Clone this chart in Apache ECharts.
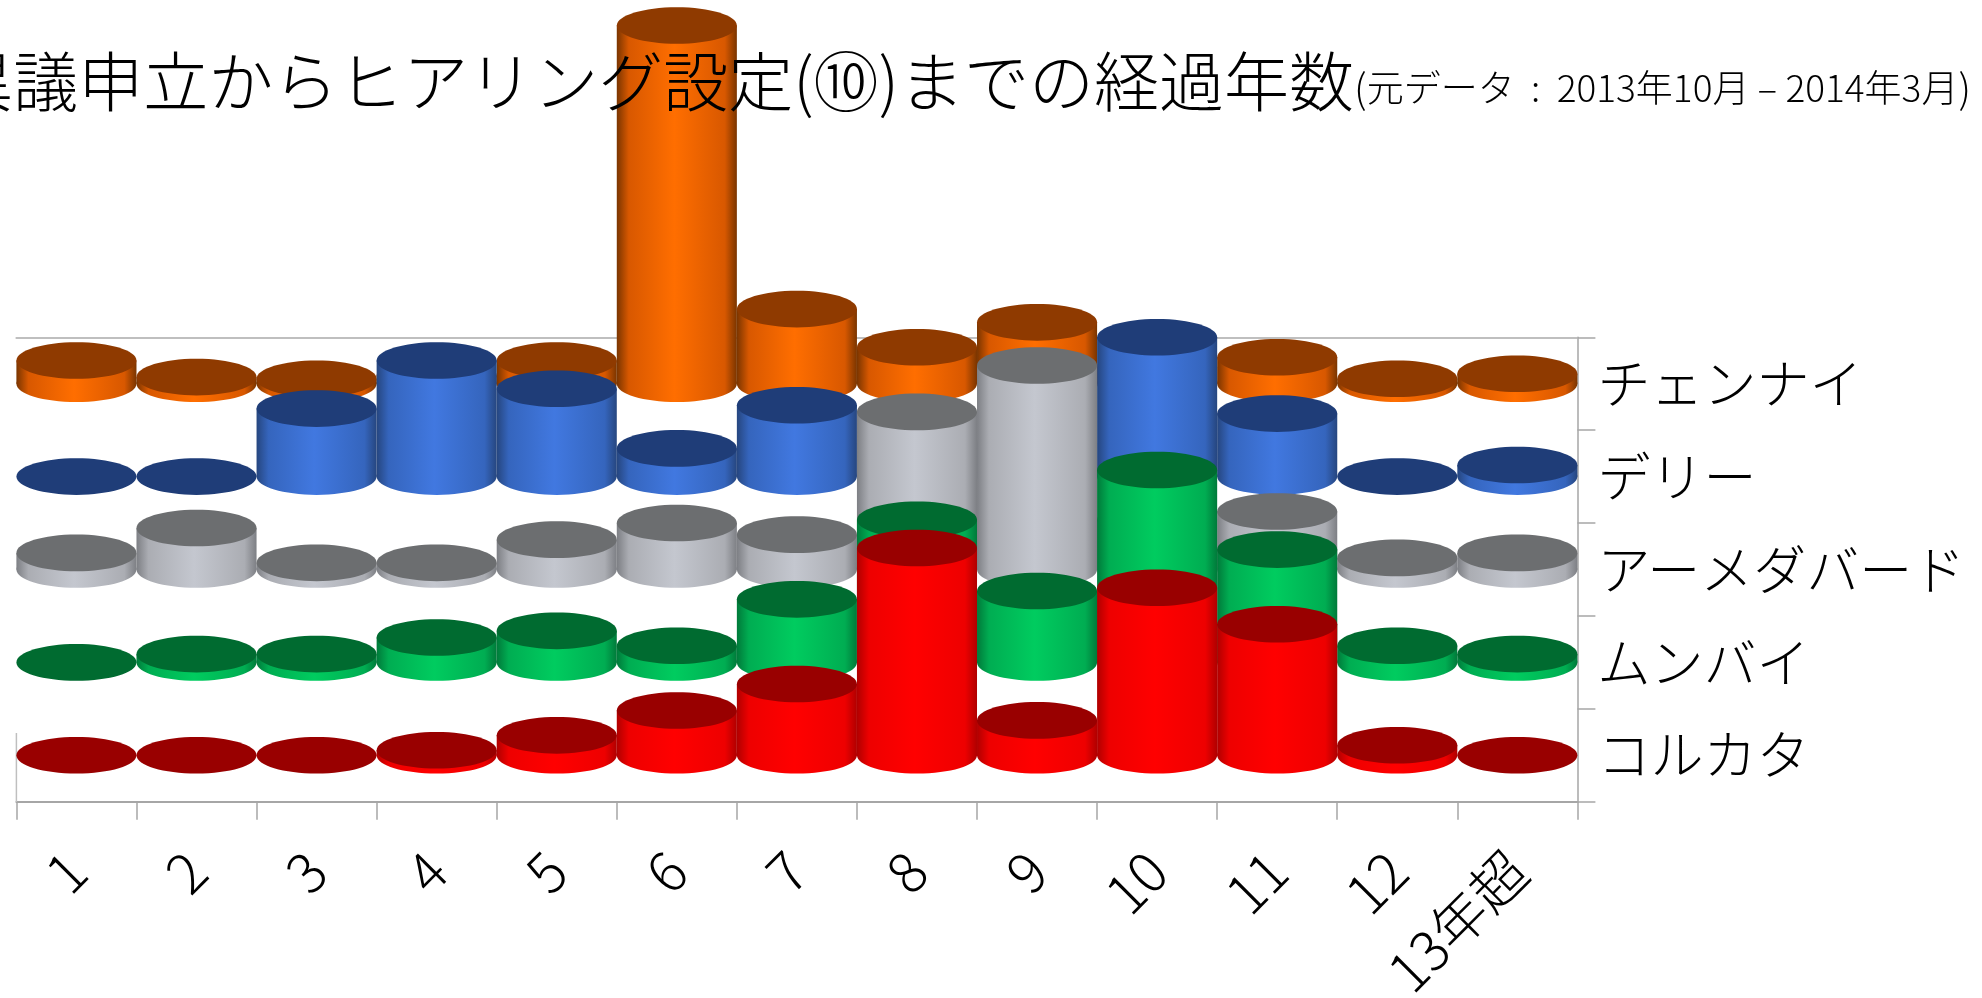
<!DOCTYPE html>
<html lang="ja">
<head>
<meta charset="utf-8">
<style>html,body{margin:0;padding:0;background:#fff;overflow:hidden}#chart{width:1982px;height:998px}</style>
<script src="https://cdn.jsdelivr.net/npm/echarts@6/dist/echarts.min.js"></script>
</head>
<body>
<div id="chart"></div>
<script>
// Years elapsed from objection filing to hearing being set, by city (cases per year bucket).
const years = ['1','2','3','4','5','6','7','8','9','10','11','12','13年超'];
const cities = ['コルカタ','ムンバイ','アーメダバード','デリー','チェンナイ'];

const kolkata   = [0,0,0,3,12,27,43,125,21,101,79,6,0];
const mumbai    = [0,5,5,15,19,10,38,86,43,116,68,10,5];
const ahmedabad = [10,25,4,4,18,28,21,95,123,30,35,7,10];
const delhi     = [0,0,41,70,53,17,43,20,20,84,38,0,7];
const chennai   = [14,4,3,5,14,216,45,22,37,10,16,3,6];

const rows = [kolkata, mumbai, ahmedabad, delhi, chennai];

// Palette per city: top face, side edge, shoulder and highlight of the curved side.
const palette = [
  {top:'#990000', edge:'#b00000', near:'#ee0000', mid:'#ff0000'},
  {top:'#006b30', edge:'#007a3a', near:'#00ad52', mid:'#00cc5f'},
  {top:'#6c6e70', edge:'#7d7f84', near:'#abadb3', mid:'#c4c7cf'},
  {top:'#1f3d78', edge:'#26467f', near:'#3565bd', mid:'#4178e0'},
  {top:'#8f3a00', edge:'#7a3500', near:'#d85800', mid:'#ff6e00'}
];

// Each city row sits on its own floor line along a shared hidden value axis.
const ROW_STEP = 56;
const AXIS_MAX = ROW_STEP * cities.length;

function cylinder(rowIdx) {
  const c = palette[rowIdx];
  const floor = ROW_STEP * (rowIdx + 0.5);
  const side = new echarts.graphic.LinearGradient(0, 0, 1, 0, [
    {offset: 0, color: c.edge},
    {offset: 0.1, color: c.near},
    {offset: 0.48, color: c.mid},
    {offset: 0.9, color: c.near},
    {offset: 1, color: c.edge}
  ]);
  return function (params, api) {
    const idx = api.value(0);
    const v = api.value(1);
    const base = api.coord([idx, floor]);
    const top = api.coord([idx, floor + v]);
    const rx = api.size([1, 0])[0] / 2;
    const ry = rx * 0.305;
    const children = [];
    if (v > 0) {
      children.push(
        {type: 'ellipse', shape: {cx: base[0], cy: base[1], rx: rx, ry: ry}, style: {fill: side}},
        {type: 'rect', shape: {x: base[0] - rx, y: top[1], width: rx * 2, height: base[1] - top[1]}, style: {fill: side}}
      );
    }
    children.push({type: 'ellipse', shape: {cx: top[0], cy: top[1], rx: rx, ry: ry}, style: {fill: c.top}});
    return {type: 'group', children: children};
  };
}

// Back row is drawn first so nearer cylinders cover it.
const series = rows.map((vals, i) => ({
  name: cities[i],
  type: 'custom',
  xAxisIndex: 0,
  yAxisIndex: 1,
  clip: false,
  z: 10 + (rows.length - i),
  renderItem: cylinder(i),
  encode: {x: 0, y: 1},
  data: vals.map((v, k) => [k, v])
}));

const font = '"Noto Sans CJK JP", sans-serif';
const axisGray = '#a6a6a6';

const chart = echarts.init(document.getElementById('chart'), null, {renderer: 'canvas'});
chart.setOption({
  backgroundColor: '#fff',
  animation: false,
  title: {
    text: '{a|異議申立からヒアリング設定(⑩)までの経過年数}{b|(}{c|元データ\u00a0\u00a0:\u00a0\u00a02013年10月\u00a0–\u00a02014年3月}{b|)}',
    right: 6,
    top: 44,
    z: 30,
    textStyle: {
      fontFamily: font,
      rich: {
        a: {fontSize: 65, fontFamily: font, fontWeight: 300, color: '#000'},
        b: {fontSize: 40, fontFamily: font, fontWeight: 300, color: '#000', padding: [12, 0, 0, 0]},
        c: {fontSize: 37, fontFamily: font, fontWeight: 300, color: '#000', padding: [12, 0, 0, 0]}
      }
    }
  },
  grid: {left: 16.4, top: 337.3, width: 1561, height: 464.4, containLabel: false, outerBoundsMode: 'none'},
  xAxis: [
    {
      type: 'category',
      data: years,
      position: 'bottom',
      axisLine: {show: true, lineStyle: {color: axisGray, width: 2}},
      axisTick: {show: true, length: 18, lineStyle: {color: axisGray, width: 1.5}},
      axisLabel: {interval: 0, rotate: 45, margin: 60, fontSize: 55, fontFamily: font, fontWeight: 300, color: '#000'}
    },
    {
      type: 'category',
      data: years,
      position: 'top',
      axisLine: {show: true, lineStyle: {color: '#bfbfbf', width: 2}},
      axisTick: {show: false},
      axisLabel: {show: false}
    }
  ],
  yAxis: [
    {
      type: 'category',
      data: cities,
      position: 'right',
      axisLine: {show: true, lineStyle: {color: axisGray, width: 1.5}},
      axisTick: {show: true, length: 18, lineStyle: {color: axisGray, width: 1.5}},
      axisLabel: {interval: 0, margin: 20, fontSize: 53, fontFamily: font, fontWeight: 300, color: '#000'}
    },
    {type: 'value', min: 0, max: AXIS_MAX, show: false}
  ],
  graphic: [
    {type: 'line', z: 1, shape: {x1: 16.4, y1: 733, x2: 16.4, y2: 802}, style: {stroke: '#bfbfbf', lineWidth: 1.5}}
  ],
  series: series
});
</script>
</body>
</html>
